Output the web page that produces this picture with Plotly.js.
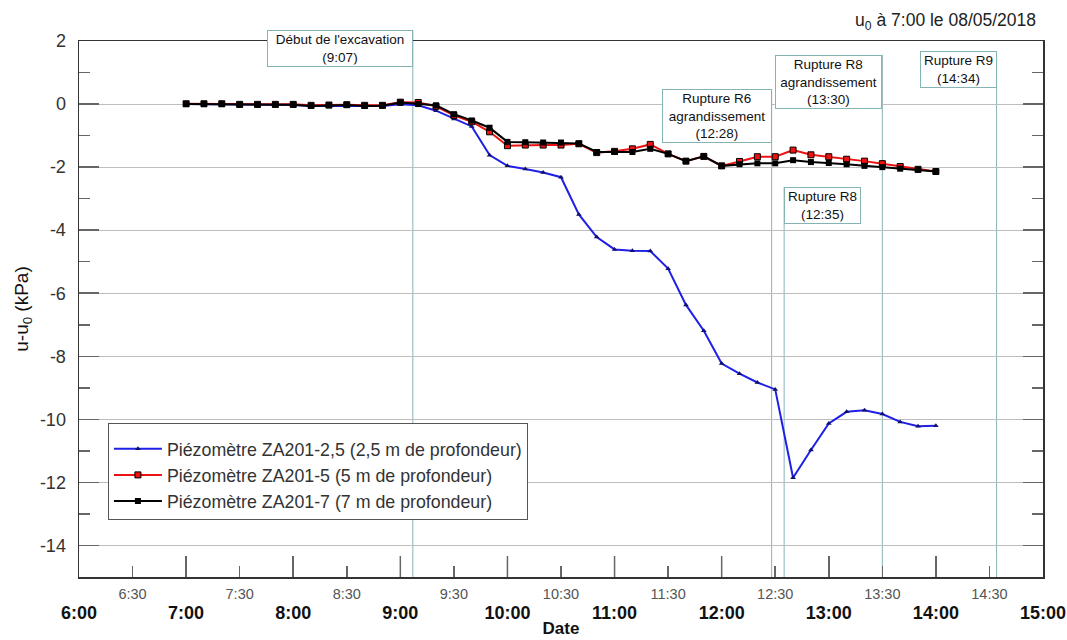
<!DOCTYPE html>
<html>
<head>
<meta charset="utf-8">
<script src="https://cdn.plot.ly/plotly-3.0.1.min.js"></script>
<style>html,body{margin:0;padding:0;background:#fff;}#chart{width:1067px;height:640px;}</style>
</head>
<body>
<div id="chart"></div>
<script>
// ---- data ----
const day = "2018-05-08 ";
const times = ["07:00","07:10","07:20","07:30","07:40","07:50","08:00","08:10","08:20","08:30","08:40","08:50",
  "09:00","09:10","09:20","09:30","09:40","09:50","10:00","10:10","10:20","10:30","10:40","10:50",
  "11:00","11:10","11:20","11:30","11:40","11:50","12:00","12:10","12:20","12:30","12:40","12:50",
  "13:00","13:10","13:20","13:30","13:40","13:50","14:00"];
const za201_2_5 = [0.00,-0.01,-0.01,-0.03,-0.03,-0.03,-0.03,-0.06,-0.05,-0.05,-0.07,-0.06,
  -0.01,-0.04,-0.21,-0.47,-0.71,-1.62,-1.96,-2.06,-2.17,-2.32,-3.50,-4.22,
  -4.61,-4.65,-4.66,-5.22,-6.37,-7.19,-8.23,-8.55,-8.83,-9.05,-11.85,-10.97,
  -10.13,-9.76,-9.71,-9.83,-10.08,-10.22,-10.20];
const za201_5 = [0.01,0.01,0.01,-0.01,-0.01,-0.01,-0.01,-0.04,-0.03,-0.02,-0.04,-0.04,
  0.06,0.05,-0.07,-0.36,-0.56,-0.88,-1.32,-1.30,-1.30,-1.30,-1.26,-1.54,
  -1.50,-1.42,-1.28,-1.58,-1.81,-1.66,-1.96,-1.82,-1.67,-1.67,-1.46,-1.61,
  -1.67,-1.75,-1.81,-1.89,-1.98,-2.07,-2.14];
const za201_7 = [0.00,0.00,0.00,-0.02,-0.02,-0.02,-0.02,-0.06,-0.04,-0.03,-0.06,-0.05,
  0.05,0.00,-0.04,-0.32,-0.52,-0.75,-1.20,-1.21,-1.22,-1.22,-1.25,-1.52,
  -1.52,-1.52,-1.42,-1.58,-1.81,-1.66,-1.96,-1.91,-1.88,-1.88,-1.78,-1.84,
  -1.87,-1.91,-1.96,-2.00,-2.05,-2.08,-2.14];
const seriesNames = ["Piézomètre ZA201-2,5 (2,5 m de profondeur)",
  "Piézomètre ZA201-5 (5 m de profondeur)",
  "Piézomètre ZA201-7 (7 m de profondeur)"];
const hourTicks = ["06:00","07:00","08:00","09:00","10:00","11:00","12:00","13:00","14:00","15:00"];
const hourLabels = ["6:00","7:00","8:00","9:00","10:00","11:00","12:00","13:00","14:00","15:00"];
const halfTicks = ["06:30","07:30","08:30","09:30","10:30","11:30","12:30","13:30","14:30"];
const halfLabels = ["6:30","7:30","8:30","9:30","10:30","11:30","12:30","13:30","14:30"];
const eventTimes = ["09:07","12:28","12:35","13:30","14:34"];
const eventLabels = ["Début de l'excavation<br>(9:07)",
  "Rupture R6<br>agrandissement<br>(12:28)",
  "Rupture R8<br>(12:35)",
  "Rupture R8<br>agrandissement<br>(13:30)",
  "Rupture R9<br>(14:34)"];
const yTicks = [2,0,-2,-4,-6,-8,-10,-12,-14];
const yMinorTicks = [1,-1,-3,-5,-7,-9,-11,-13];

// ---- presentation ----
const FONT = "Liberation Sans, Arial, sans-serif";
const X = times.map(t => day + t);
const RANGE = [day + "06:00", day + "15:00"];
const boxAnchor = ["right","right","left","right","right"];
const boxTop = [1.021, 0.910, 0.7275, 0.9744, 0.9806];
const boxWidth = [142, 106, 73, 103, 73];
const teal = "#86b4b4";
const PLOT_H = 640 - 41 - 63;

const traces = [
  {x: X, y: za201_2_5, name: seriesNames[0], type: "scatter", mode: "lines+markers",
   line: {color: "#1f1fe6", width: 2}, marker: {symbol: "triangle-up", size: 5, color: "#10106a"}},
  {x: X, y: za201_5, name: seriesNames[1], type: "scatter", mode: "lines+markers",
   line: {color: "#ee1111", width: 2}, marker: {symbol: "square", size: 6, color: "#ee1111", line: {color: "#000", width: 1}}},
  {x: X, y: za201_7, name: seriesNames[2], type: "scatter", mode: "lines+markers",
   line: {color: "#000", width: 2}, marker: {symbol: "square", size: 6, color: "#000"}},
  // carriers for the extra tick axes (no visible marks)
  {x: [], y: [], type: "scatter", mode: "markers", xaxis: "x2", yaxis: "y", showlegend: false, hoverinfo: "skip"},
  {x: [], y: [], type: "scatter", mode: "markers", xaxis: "x3", yaxis: "y", showlegend: false, hoverinfo: "skip"},
  {x: [], y: [], type: "scatter", mode: "markers", xaxis: "x", yaxis: "y2", showlegend: false, hoverinfo: "skip"}
];

// event marker lines
const shapes = eventTimes.map((t, i) => ({
  type: "line", xref: "x", yref: "paper", x0: day + t, x1: day + t, y0: 0, y1: boxTop[i],
  line: {color: teal, width: 1}, layer: "below"
}));
// long hour tick marks on the bottom axis
hourTicks.slice(1, -1).forEach(t => shapes.push({
  type: "line", xref: "x", yref: "paper", x0: day + t, x1: day + t, y0: 0, y1: 21 / PLOT_H,
  line: {color: "#666", width: 1.5}, layer: "above"
}));

const annotations = eventTimes.map((t, i) => ({
  xref: "x", yref: "paper", x: day + t, y: boxTop[i], xanchor: boxAnchor[i], yanchor: "top",
  text: eventLabels[i], showarrow: false, align: "center",
  font: {family: FONT, size: 13.5, color: "#111"},
  bgcolor: "#fff", bordercolor: teal, borderwidth: 1, borderpad: 1, width: boxWidth[i]
}));

const layout = {
  width: 1067, height: 640,
  margin: {l: 79, r: 24, t: 41, b: 63},
  paper_bgcolor: "#fff", plot_bgcolor: "#fff",
  font: {family: FONT, color: "#222"},
  title: {text: "u<sub>0</sub> à 7:00 le 08/05/2018", x: 0.971, xanchor: "right", y: 0.969, yanchor: "middle",
          font: {family: FONT, size: 17.5, color: "#222"}},
  showlegend: true,
  legend: {x: 0.030, y: 0.287, xanchor: "left", yanchor: "top", bgcolor: "#fff",
           bordercolor: "#555", borderwidth: 1, itemwidth: 48,
           title: {text: "&nbsp;", font: {family: FONT, size: 5}},
           font: {family: FONT, size: 17.8, color: "#333"}},
  // main axis: frame + bold hour labels
  xaxis: {type: "date", range: RANGE,
          tickmode: "array", tickvals: hourTicks.map(t => day + t), ticktext: hourLabels.map(s => "<b>" + s + "</b>"),
          tickfont: {family: FONT, size: 18, color: "#111"},
          ticks: "", showgrid: false, zeroline: false, showline: true, linecolor: "#333", linewidth: 1.5, mirror: true,
          ticklabelstandoff: 19,
          title: {text: "<b>Date</b>", font: {family: FONT, size: 17, color: "#111"}, standoff: 0},
          automargin: false},
  // hour tick marks (long)
  xaxis2: {type: "date", overlaying: "x", anchor: "y", side: "bottom", range: RANGE,
           tickmode: "array", tickvals: hourTicks.map(t => day + t), showticklabels: false,
           ticks: "inside", ticklen: 21, tickcolor: "#666", tickwidth: 1.5,
           showgrid: false, zeroline: false, showline: false, automargin: false},
  // half-hour tick marks (short) + small labels
  xaxis3: {type: "date", overlaying: "x", anchor: "y", side: "bottom", range: RANGE,
           tickmode: "array", tickvals: halfTicks.map(t => day + t), ticktext: halfLabels,
           tickfont: {family: FONT, size: 14.5, color: "#555"},
           ticks: "inside", ticklen: 11, tickcolor: "#666", tickwidth: 1.5,
           showgrid: false, zeroline: false, showline: false, ticklabelstandoff: 6, automargin: false},
  yaxis: {range: [-15, 2], tickmode: "array", tickvals: yTicks, ticktext: yTicks.map(String),
          tickfont: {family: FONT, size: 18, color: "#333"},
          ticks: "inside", ticklen: 20, tickcolor: "#666", tickwidth: 1.5,
          showgrid: true, gridcolor: "#bdbdbd", gridwidth: 1, zeroline: false,
          showline: true, linecolor: "#333", linewidth: 1.5, mirror: "ticks",
          ticklabelstandoff: 8,
          title: {text: "u-u<sub>0</sub> (kPa)", font: {family: FONT, size: 19, color: "#111"}, standoff: 6},
          automargin: false},
  yaxis2: {range: [-15, 2], overlaying: "y", anchor: "x", side: "left",
           tickmode: "array", tickvals: yMinorTicks, showticklabels: false,
           ticks: "inside", ticklen: 11, tickcolor: "#666", tickwidth: 1.5,
           showgrid: false, zeroline: false, showline: false, mirror: "ticks", automargin: false},
  shapes: shapes,
  annotations: annotations
};

Plotly.newPlot("chart", traces, layout, {staticPlot: true, displayModeBar: false});
</script>
</body>
</html>
